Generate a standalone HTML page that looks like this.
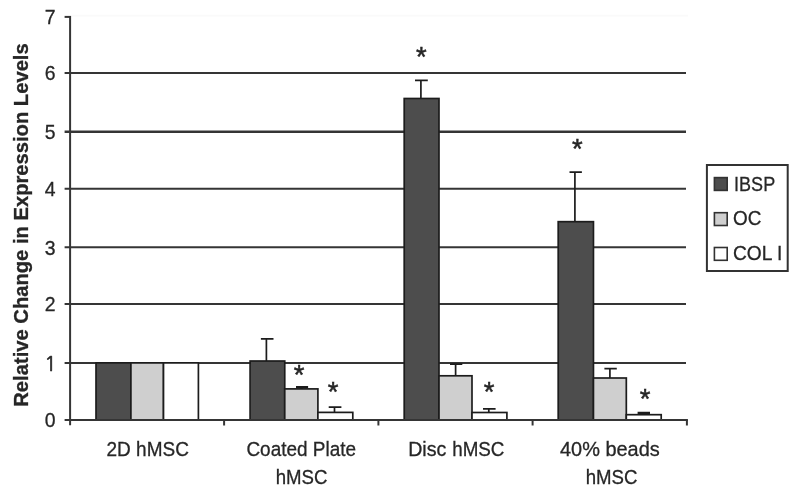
<!DOCTYPE html>
<html lang="en"><head><meta charset="utf-8"><title>Relative Change in Expression Levels</title>
<style>
html,body{margin:0;padding:0;background:#fff;}
body{width:800px;height:493px;overflow:hidden;}
svg{display:block;}
text{font-family:"Liberation Sans",sans-serif;fill:#262626;stroke:#262626;stroke-width:0.3px;}
.ax{font-size:20.5px;}
.yt{font-size:21px;}
.one{font-family:"NanumGothic","Liberation Sans",sans-serif;font-size:20.5px;stroke-width:0.6px;}
.ttl{font-size:20.2px;font-weight:bold;}
.star{font-size:27.4px;stroke-width:0.5px;}
</style></head><body>
<svg width="800" height="493" viewBox="0 0 800 493">
<defs><filter id="soft" x="0" y="0" width="800" height="493" filterUnits="userSpaceOnUse"><feGaussianBlur stdDeviation="0.45"/></filter></defs>
<rect x="0" y="0" width="800" height="493" fill="#ffffff"/>
<g filter="url(#soft)">
<g stroke="#363636" stroke-width="2" fill="none">
<line x1="64.6" y1="362.9" x2="686.0" y2="362.9"/>
<line x1="64.6" y1="304.1" x2="686.0" y2="304.1"/>
<line x1="64.6" y1="247.3" x2="686.0" y2="247.3"/>
<line x1="64.6" y1="188.8" x2="686.0" y2="188.8"/>
<line stroke-width="2.4" x1="64.6" y1="131.7" x2="686.0" y2="131.7"/>
<line x1="64.6" y1="73.0" x2="686.0" y2="73.0"/>
<line x1="64.6" y1="16.9" x2="71" y2="16.9"/>
</g>
<line x1="71" y1="15.6" x2="688" y2="15.6" stroke="#fafafa" stroke-width="1.6"/>
<g stroke="#1e1e1e" stroke-width="1.7">
<rect x="96.00" y="362.9" width="34.90" height="57.0" fill="#4d4d4d"/>
<rect x="130.90" y="362.9" width="32.60" height="57.0" fill="#cfcfcf"/>
<rect x="163.50" y="362.9" width="34.90" height="57.0" fill="#ffffff"/>
<rect x="250.10" y="361.0" width="34.65" height="58.9" fill="#4d4d4d"/>
<rect x="284.75" y="388.9" width="33.15" height="31.0" fill="#cfcfcf"/>
<rect x="317.90" y="412.4" width="34.90" height="7.5" fill="#ffffff"/>
<rect x="404.20" y="98.5" width="34.80" height="321.4" fill="#4d4d4d"/>
<rect x="439.00" y="375.8" width="33.00" height="44.1" fill="#cfcfcf"/>
<rect x="472.00" y="412.5" width="34.90" height="7.4" fill="#ffffff"/>
<rect x="558.20" y="221.7" width="35.25" height="198.2" fill="#4d4d4d"/>
<rect x="593.45" y="378.0" width="32.85" height="41.9" fill="#cfcfcf"/>
<rect x="626.30" y="414.7" width="34.90" height="5.2" fill="#ffffff"/>
</g>
<g stroke="#1e1e1e" stroke-width="1.7" fill="none">
<path d="M260.9 338.9H273.5M266.4 338.9V361.0"/>
<path stroke-width="2.3" d="M296.0 387.1H308.1M301.6 387.1V388.9"/>
<path d="M328.7 407.1H341.4M334.5 407.1V412.4"/>
<path d="M415.0 80.3H427.8M420.9 80.3V98.5"/>
<path d="M450.0 364.1H462.3M455.6 364.1V375.8"/>
<path d="M483.0 408.8H495.6M488.8 408.8V412.5"/>
<path d="M569.5 172.2H581.9M574.9 172.2V221.7"/>
<path d="M604.4 368.6H616.8M609.9 368.6V378.0"/>
<path stroke-width="2.3" d="M637.6 413.0H650.0M643.4 413.0V414.7"/>
</g>
<g stroke="#363636" stroke-width="2" fill="none">
<line x1="70.1" y1="15.9" x2="70.1" y2="425.2"/>
<line x1="64.6" y1="419.9" x2="687.9" y2="419.9"/>
<line x1="224.1" y1="419.9" x2="224.1" y2="425.5"/>
<line x1="378.4" y1="419.9" x2="378.4" y2="425.5"/>
<line x1="532.6" y1="419.9" x2="532.6" y2="425.5"/>
<line x1="686.9" y1="419.9" x2="686.9" y2="425.5"/>
</g>
<text class="yt" x="55.6" y="427.1" text-anchor="end" textLength="10.8" lengthAdjust="spacingAndGlyphs">0</text>
<text class="yt one" x="56.7" y="370.6" text-anchor="end">1</text>
<text class="yt" x="55.6" y="311.3" text-anchor="end" textLength="10.8" lengthAdjust="spacingAndGlyphs">2</text>
<text class="yt" x="55.6" y="254.5" text-anchor="end" textLength="10.8" lengthAdjust="spacingAndGlyphs">3</text>
<text class="yt" x="55.6" y="196.0" text-anchor="end" textLength="10.8" lengthAdjust="spacingAndGlyphs">4</text>
<text class="yt" x="55.6" y="138.9" text-anchor="end" textLength="10.8" lengthAdjust="spacingAndGlyphs">5</text>
<text class="yt" x="55.6" y="80.2" text-anchor="end" textLength="10.8" lengthAdjust="spacingAndGlyphs">6</text>
<text class="yt" x="55.6" y="23.6" text-anchor="end" textLength="10.8" lengthAdjust="spacingAndGlyphs">7</text>
<text class="ttl" transform="translate(27.5 406.7) rotate(-90)" textLength="363.4" lengthAdjust="spacingAndGlyphs">Relative Change in Expression Levels</text>
<text class="ax" x="106.50" y="456.4" textLength="82.35" lengthAdjust="spacingAndGlyphs">2D hMSC</text>
<text class="ax" x="246.45" y="456.3" textLength="109.55" lengthAdjust="spacingAndGlyphs">Coated Plate</text>
<text class="ax" x="275.70" y="484.4" textLength="51.75" lengthAdjust="spacingAndGlyphs">hMSC</text>
<text class="ax" x="560.00" y="456.4" textLength="99.75" lengthAdjust="spacingAndGlyphs">40% beads</text>
<text class="ax" x="585.70" y="484.4" textLength="51.75" lengthAdjust="spacingAndGlyphs">hMSC</text>
<text class="ax"><tspan x="408.20" y="456.4" textLength="38.15" lengthAdjust="spacingAndGlyphs">Disc</tspan> <tspan x="452.20" y="456.4" textLength="52.25" lengthAdjust="spacingAndGlyphs">hMSC</tspan></text>
<text class="star" x="299.2" y="383.9" text-anchor="middle">*</text>
<text class="star" x="333.0" y="400.7" text-anchor="middle">*</text>
<text class="star" x="421.4" y="65.7" text-anchor="middle">*</text>
<text class="star" x="489.0" y="400.6" text-anchor="middle">*</text>
<text class="star" x="577.4" y="158.1" text-anchor="middle">*</text>
<text class="star" x="645.1" y="408.3" text-anchor="middle">*</text>
<rect x="706.9" y="165" width="80.8" height="106.0" fill="#ffffff" stroke="#303030" stroke-width="2"/>
<rect x="714.4" y="177.6" width="12.8" height="12.8" fill="#4d4d4d" stroke="#303030" stroke-width="1.6"/>
<text class="ax" x="734.10" y="190.7" textLength="41.05" lengthAdjust="spacingAndGlyphs">IBSP</text>
<rect x="714.4" y="212.7" width="12.8" height="12.8" fill="#cfcfcf" stroke="#303030" stroke-width="1.6"/>
<text class="ax" x="733.00" y="225.3" textLength="28.35" lengthAdjust="spacingAndGlyphs">OC</text>
<rect x="714.4" y="247.5" width="12.8" height="12.8" fill="#ffffff" stroke="#303030" stroke-width="1.6"/>
<text class="ax" x="733.00" y="260.0" textLength="49.35" lengthAdjust="spacingAndGlyphs">COL I</text>
</g>
</svg>
</body></html>
